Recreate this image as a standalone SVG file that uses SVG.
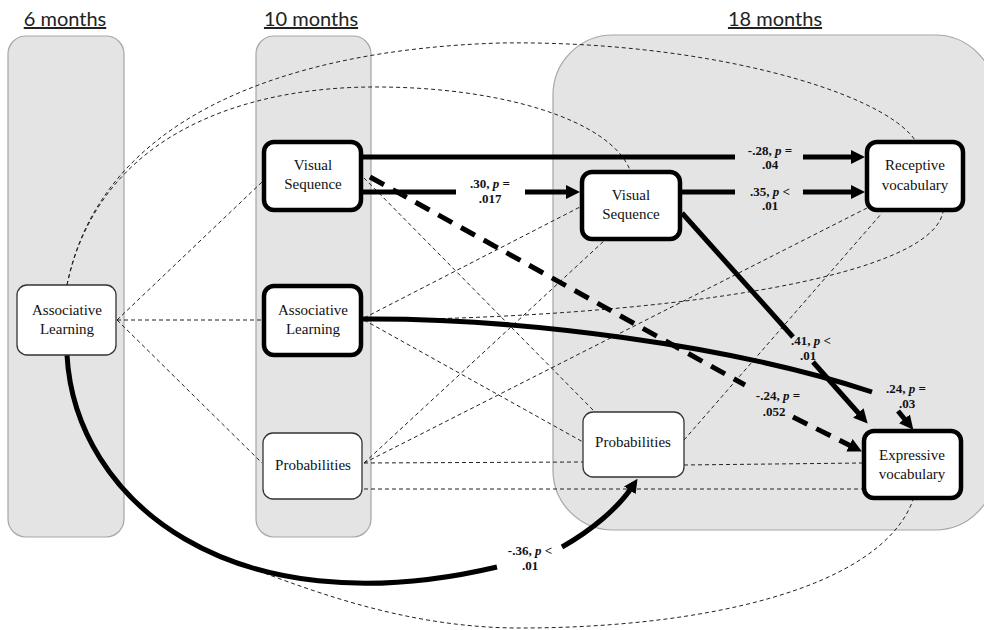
<svg xmlns="http://www.w3.org/2000/svg" width="984" height="630" viewBox="0 0 984 630">
<defs>
<style>
.col{fill:#e4e4e4;stroke:#a6a6a6;stroke-width:1.2}
.title{font-family:Lato,'Open Sans',sans-serif;font-size:20px;fill:#222;text-anchor:middle;text-decoration:underline}
.thin{fill:#fff;stroke:#333;stroke-width:1.3}
.thick{fill:#fff;stroke:#000;stroke-width:4.5}
.nt{font-family:'Liberation Serif','Times New Roman',serif;font-size:15px;fill:#111;text-anchor:middle}
.lb{font-family:'Liberation Serif','Times New Roman',serif;font-size:13px;font-weight:bold;fill:#111;text-anchor:middle}
.cov{fill:none;stroke:#222;stroke-width:1;stroke-dasharray:4 3}
.path{fill:none;stroke:#000;stroke-width:5}
.dpath{fill:none;stroke:#000;stroke-width:5;stroke-dasharray:16 10}
</style>
<marker id="ah" markerWidth="16" markerHeight="14" refX="4" refY="7" orient="auto" markerUnits="userSpaceOnUse">
<path d="M0,0 L14,7 L0,14 z" fill="#000"/>
</marker>
</defs>

<g id="columns">
<rect class="col" x="8" y="36" width="116" height="501" rx="18"/>
<rect class="col" x="256" y="36" width="115" height="501" rx="18"/>
<rect class="col" x="553" y="35" width="442" height="495" rx="60"/>
<text class="title" x="65" y="26">6 months</text>
<text class="title" x="311" y="26">10 months</text>
<text class="title" x="775" y="26">18 months</text>
</g>

<g id="connectors">
<path class="cov" d="M67,285 C100,120 280,50 500,43 C700,40 880,90 915,140"/>
<path class="cov" d="M67,285 C100,130 250,88 370,87 C500,86 610,120 630,170"/>
<path class="cov" d="M67,355 C71.8,442 129.5,523.6 232.6,561.3 C300,586 400,628 520,628 C700,628 880,590 913,500"/>
<line class="cov" x1="117" y1="320" x2="262" y2="182"/>
<line class="cov" x1="117" y1="320" x2="262" y2="320"/>
<line class="cov" x1="117" y1="320" x2="262" y2="463"/>
<line class="cov" x1="364" y1="178" x2="593" y2="410"/>
<line class="cov" x1="364" y1="318" x2="580" y2="207"/>
<path class="cov" d="M364,320 C650,318 930,280 943,212"/>
<line class="cov" x1="364" y1="320" x2="583" y2="442"/>
<line class="cov" x1="364" y1="463" x2="605" y2="240"/>
<line class="cov" x1="364" y1="463" x2="867" y2="208"/>
<line class="cov" x1="364" y1="463" x2="583" y2="462"/>
<line class="cov" x1="364" y1="489" x2="862" y2="489"/>
<line class="cov" x1="684" y1="440" x2="882" y2="213"/>
<line class="cov" x1="684" y1="465" x2="862" y2="463"/>

<line class="path" x1="363" y1="157" x2="735" y2="157"/>
<line class="path" x1="803" y1="157" x2="855" y2="157" marker-end="url(#ah)"/>
<line class="path" x1="363" y1="192" x2="456" y2="192"/>
<line class="path" x1="525" y1="192" x2="570" y2="192" marker-end="url(#ah)"/>
<line class="path" x1="682" y1="192" x2="735" y2="192"/>
<line class="path" x1="803" y1="192" x2="855" y2="192" marker-end="url(#ah)"/>
<line class="path" x1="682" y1="213" x2="793" y2="337"/>
<line class="path" x1="813" y1="362" x2="861" y2="416" marker-end="url(#ah)"/>
<path class="path" d="M363,319 C520,318 730,345 872,392"/>
<line class="path" x1="898" y1="411" x2="907" y2="422" marker-end="url(#ah)"/>
<line class="dpath" x1="370" y1="177" x2="745" y2="385"/>
<path class="dpath" d="M793,417 L853,447" marker-end="url(#ah)"/>
<path class="path" d="M67,355 C75,500 230,630 497,567"/>
<path class="path" d="M562,547 C592,530 618,508 632,487" marker-end="url(#ah)"/>
</g>

<g id="n-al6">
<rect class="thin" x="17" y="285" width="99" height="70" rx="10"/>
<text class="nt" x="67" y="315">Associative</text>
<text class="nt" x="67" y="334">Learning</text>
</g>
<g id="n-vs10">
<rect class="thick" x="264" y="142" width="97" height="68" rx="10"/>
<text class="nt" x="313" y="170">Visual</text>
<text class="nt" x="313" y="189">Sequence</text>
</g>
<g id="n-al10">
<rect class="thick" x="264" y="286" width="97" height="69" rx="10"/>
<text class="nt" x="313" y="315">Associative</text>
<text class="nt" x="313" y="334">Learning</text>
</g>
<g id="n-prob10">
<rect class="thin" x="263" y="433" width="99" height="66" rx="10"/>
<text class="nt" x="313" y="470">Probabilities</text>
</g>
<g id="n-vs18">
<rect class="thick" x="582" y="172" width="98" height="67" rx="10"/>
<text class="nt" x="631" y="200">Visual</text>
<text class="nt" x="631" y="219">Sequence</text>
</g>
<g id="n-rec">
<rect class="thick" x="867" y="142" width="96" height="68" rx="10"/>
<text class="nt" x="915" y="170">Receptive</text>
<text class="nt" x="915" y="190">vocabulary</text>
</g>
<g id="n-prob18">
<rect class="thin" x="583" y="412" width="101" height="65" rx="10"/>
<text class="nt" x="633" y="447">Probabilities</text>
</g>
<g id="n-exp">
<rect class="thick" x="864" y="431" width="97" height="67" rx="10"/>
<text class="nt" x="912" y="460">Expressive</text>
<text class="nt" x="912" y="479">vocabulary</text>
</g>

<g id="labels">
<text class="lb" x="770" y="155">-.28, <tspan font-style="italic">p</tspan> =</text>
<text class="lb" x="770" y="169">.04</text>
<text class="lb" x="490" y="188">.30, <tspan font-style="italic">p</tspan> =</text>
<text class="lb" x="490" y="203">.017</text>
<text class="lb" x="770" y="196">.35, <tspan font-style="italic">p</tspan> &lt;</text>
<text class="lb" x="770" y="210">.01</text>
<text class="lb" x="811" y="345">.41, <tspan font-style="italic">p</tspan> &lt;</text>
<text class="lb" x="808" y="360">.01</text>
<text class="lb" x="906" y="393">.24, <tspan font-style="italic">p</tspan> =</text>
<text class="lb" x="907" y="408">.03</text>
<text class="lb" x="778" y="400">-.24, <tspan font-style="italic">p</tspan> =</text>
<text class="lb" x="774" y="416">.052</text>
<text class="lb" x="530" y="555">-.36, <tspan font-style="italic">p</tspan> &lt;</text>
<text class="lb" x="530" y="570">.01</text>
</g>
</svg>
